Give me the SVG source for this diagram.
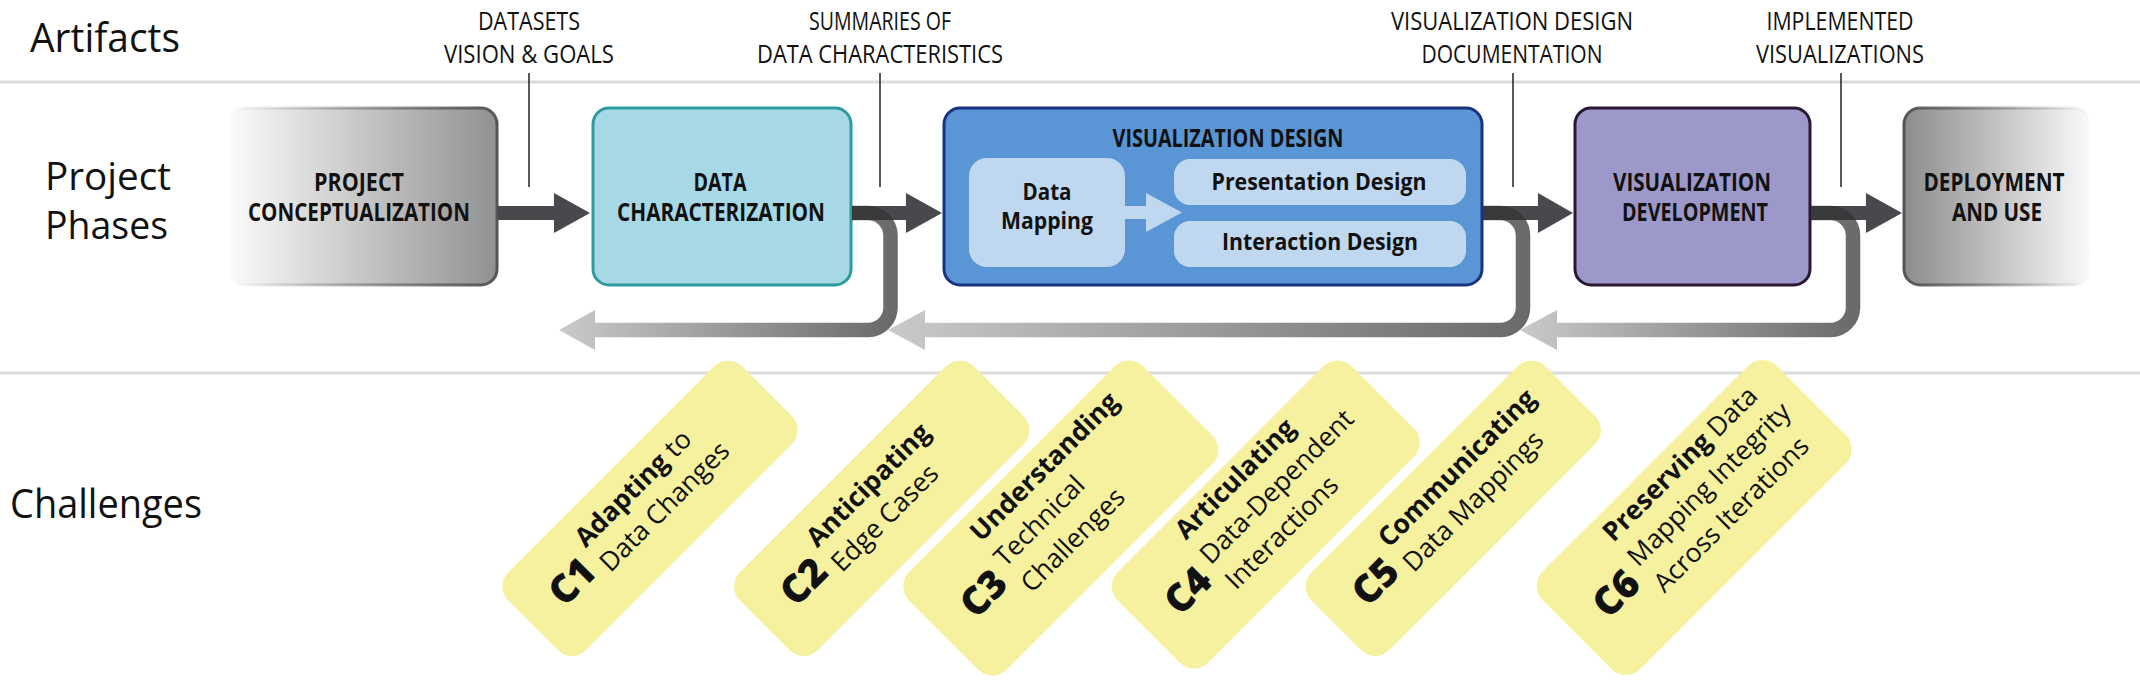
<svg xmlns="http://www.w3.org/2000/svg" width="2140" height="681" viewBox="0 0 2140 681">
<defs>
<style>
text{font-family:"Open Sans","Liberation Sans",sans-serif;fill:#111;}
.side{font-size:38px;}
.art{font-size:25px;text-anchor:middle;}
.phase{font-size:25px;font-weight:700;text-anchor:middle;}
.inner{font-size:24px;font-weight:700;text-anchor:middle;}
.sep{stroke:#dcdcdc;stroke-width:3;}
.ptr{stroke:#222;stroke-width:1.5;fill:none;}
.fwd{fill:#48494d;}
.card{fill:#f5f19e;}
.cnum{font-size:39px;font-weight:800;text-anchor:middle;}
.ctext{font-size:26.5px;font-weight:500;}
.b{font-weight:700;}
.innerbox{fill:#bfd7ef;}
</style>
<linearGradient id="gProjFill" x1="0" y1="0" x2="1" y2="0"><stop offset="0" stop-color="#fbfbfb"/><stop offset="1" stop-color="#919191"/></linearGradient>
<linearGradient id="gProjStroke" x1="0" y1="0" x2="1" y2="0"><stop offset="0" stop-color="#555" stop-opacity="0"/><stop offset="1" stop-color="#555"/></linearGradient>
<linearGradient id="gDepFill" x1="0" y1="0" x2="1" y2="0"><stop offset="0" stop-color="#8c8c8c"/><stop offset="1" stop-color="#fafafa"/></linearGradient>
<linearGradient id="gDepStroke" x1="0" y1="0" x2="1" y2="0"><stop offset="0" stop-color="#555"/><stop offset="1" stop-color="#555" stop-opacity="0"/></linearGradient>
<linearGradient id="gLoop1" gradientUnits="userSpaceOnUse" x1="559" y1="0" x2="891" y2="0"><stop offset="0" stop-color="#333" stop-opacity="0.26"/><stop offset="1" stop-color="#333" stop-opacity="0.73"/></linearGradient>
<linearGradient id="gLoop2" gradientUnits="userSpaceOnUse" x1="888" y1="0" x2="1523" y2="0"><stop offset="0" stop-color="#333" stop-opacity="0.26"/><stop offset="1" stop-color="#333" stop-opacity="0.73"/></linearGradient>
<linearGradient id="gLoop3" gradientUnits="userSpaceOnUse" x1="1520" y1="0" x2="1853" y2="0"><stop offset="0" stop-color="#333" stop-opacity="0.26"/><stop offset="1" stop-color="#333" stop-opacity="0.73"/></linearGradient>
</defs>

<rect x="0" y="0" width="2140" height="681" fill="#fff"/>

<g id="separators">
<line class="sep" x1="0" y1="82" x2="2140" y2="82"/>
<line class="sep" x1="0" y1="373" x2="2140" y2="373"/>
</g>

<g id="row-labels">
<text class="side" x="30" y="52" textLength="150" lengthAdjust="spacingAndGlyphs" style="font-size:40px">Artifacts</text>
<text class="side" x="45" y="190" textLength="126" lengthAdjust="spacingAndGlyphs">Project</text>
<text class="side" x="45" y="239" textLength="123" lengthAdjust="spacingAndGlyphs">Phases</text>
<text class="side" x="10" y="518" textLength="192" lengthAdjust="spacingAndGlyphs" style="font-size:40px">Challenges</text>
</g>

<g id="artifact-datasets">
<text class="art" x="529" y="30" textLength="102" lengthAdjust="spacingAndGlyphs">DATASETS</text>
<text class="art" x="529" y="63" textLength="170" lengthAdjust="spacingAndGlyphs">VISION &amp; GOALS</text>
</g>
<g id="artifact-summaries">
<text class="art" x="880" y="30" textLength="142" lengthAdjust="spacingAndGlyphs">SUMMARIES OF</text>
<text class="art" x="880" y="63" textLength="246" lengthAdjust="spacingAndGlyphs">DATA CHARACTERISTICS</text>
</g>
<g id="artifact-vizdoc">
<text class="art" x="1512" y="30" textLength="242" lengthAdjust="spacingAndGlyphs">VISUALIZATION DESIGN</text>
<text class="art" x="1512" y="63" textLength="181" lengthAdjust="spacingAndGlyphs">DOCUMENTATION</text>
</g>
<g id="artifact-implemented">
<text class="art" x="1840" y="30" textLength="147" lengthAdjust="spacingAndGlyphs">IMPLEMENTED</text>
<text class="art" x="1840" y="63" textLength="168" lengthAdjust="spacingAndGlyphs">VISUALIZATIONS</text>
</g>

<g id="phase-conceptualization">
<rect x="229" y="108" width="268" height="177" rx="16" fill="url(#gProjFill)" stroke="url(#gProjStroke)" stroke-width="3"/>
<text class="phase" x="359" y="190.5" textLength="90" lengthAdjust="spacingAndGlyphs">PROJECT</text>
<text class="phase" x="359" y="220.5" textLength="222" lengthAdjust="spacingAndGlyphs">CONCEPTUALIZATION</text>
</g>

<g id="phase-characterization">
<rect x="593" y="108" width="258" height="177" rx="16" fill="#a6d8e5" stroke="#2e9c9e" stroke-width="3"/>
<text class="phase" x="720" y="190.5" textLength="53" lengthAdjust="spacingAndGlyphs">DATA</text>
<text class="phase" x="721" y="220.5" textLength="208" lengthAdjust="spacingAndGlyphs">CHARACTERIZATION</text>
</g>

<g id="phase-design">
<rect x="944" y="108" width="538" height="177" rx="16" fill="#5a96d5" stroke="#1a337f" stroke-width="3"/>
<text class="phase" x="1228" y="146.5" textLength="231" lengthAdjust="spacingAndGlyphs">VISUALIZATION DESIGN</text>
<g id="data-mapping">
<rect class="innerbox" x="969" y="158" width="156" height="109" rx="18"/>
<text class="inner" x="1047" y="200" textLength="49" lengthAdjust="spacingAndGlyphs">Data</text>
<text class="inner" x="1047" y="229" textLength="92" lengthAdjust="spacingAndGlyphs">Mapping</text>
</g>
<path class="innerbox" d="M1124 206 H1146 V193 L1182 212.5 L1146 232 V219 H1124 Z"/>
<g id="presentation-design">
<rect class="innerbox" x="1174" y="159" width="292" height="46" rx="16"/>
<text class="inner" x="1319" y="190" textLength="215" lengthAdjust="spacingAndGlyphs">Presentation Design</text>
</g>
<g id="interaction-design">
<rect class="innerbox" x="1174" y="221" width="292" height="46" rx="16"/>
<text class="inner" x="1320" y="250" textLength="196" lengthAdjust="spacingAndGlyphs">Interaction Design</text>
</g>
</g>

<g id="phase-development">
<rect x="1575" y="108" width="235" height="177" rx="16" fill="#9c98ca" stroke="#2a1734" stroke-width="3"/>
<text class="phase" x="1692" y="190.5" textLength="158" lengthAdjust="spacingAndGlyphs">VISUALIZATION</text>
<text class="phase" x="1695" y="220.5" textLength="146" lengthAdjust="spacingAndGlyphs">DEVELOPMENT</text>
</g>

<g id="phase-deployment">
<rect x="1904" y="108" width="186" height="177" rx="16" fill="url(#gDepFill)" stroke="url(#gDepStroke)" stroke-width="3"/>
<text class="phase" x="1994" y="190.5" textLength="141" lengthAdjust="spacingAndGlyphs">DEPLOYMENT</text>
<text class="phase" x="1997" y="220.5" textLength="90" lengthAdjust="spacingAndGlyphs">AND USE</text>
</g>

<g id="connectors">
<line class="ptr" x1="529" y1="73" x2="529" y2="187"/>
<line class="ptr" x1="880" y1="73" x2="880" y2="187"/>
<line class="ptr" x1="1513" y1="73" x2="1513" y2="187"/>
<line class="ptr" x1="1841" y1="73" x2="1841" y2="187"/>
<path class="fwd" d="M498 206 H554 V193 L590 213 L554 233 V220 H498 Z"/>
<path class="fwd" d="M852 206 H906 V193 L942 213 L906 233 V220 H852 Z"/>
<path class="fwd" d="M1483 206 H1538 V193 L1573 213 L1538 233 V220 H1483 Z"/>
<path class="fwd" d="M1811 206 H1866 V193 L1902 213 L1866 233 V220 H1811 Z"/>
<path d="M852 213 H868 A22.5 22.5 0 0 1 890.5 235.5 V307.5 A22.5 22.5 0 0 1 868 330 H595" fill="none" stroke="url(#gLoop1)" stroke-width="14.5"/>
<polygon points="595,310 559,330 595,350" fill="url(#gLoop1)"/>
<path d="M1483 213 H1500.5 A22.5 22.5 0 0 1 1523 235.5 V307.5 A22.5 22.5 0 0 1 1500.5 330 H925" fill="none" stroke="url(#gLoop2)" stroke-width="14.5"/>
<polygon points="925,310 888,330 925,350" fill="url(#gLoop2)"/>
<path d="M1811 213 H1830.5 A22.5 22.5 0 0 1 1853 235.5 V307.5 A22.5 22.5 0 0 1 1830.5 330 H1557" fill="none" stroke="url(#gLoop3)" stroke-width="14.5"/>
<polygon points="1557,310 1520,330 1557,350" fill="url(#gLoop3)"/>
</g>

<g id="challenge-c1" transform="translate(650 508.3) rotate(-45)">
<rect class="card" x="-165.5" y="-55" width="331" height="110" rx="20"/>
<text class="cnum" x="-107" y="10">C1</text>
<text class="ctext" x="-74" y="-17"><tspan class="b">Adapting</tspan> to</text>
<text class="ctext" x="-74" y="18">Data Changes</text>
</g>
<g id="challenge-c2" transform="translate(881.7 508.3) rotate(-45)">
<rect class="card" x="-165.5" y="-55" width="331" height="110" rx="20"/>
<text class="cnum" x="-107" y="10">C2</text>
<text class="ctext b" x="-74" y="-17">Anticipating</text>
<text class="ctext" x="-74" y="18">Edge Cases</text>
</g>
<g id="challenge-c3" transform="translate(1060.8 518) rotate(-45)">
<rect class="card" x="-165.5" y="-69" width="331" height="138" rx="20"/>
<text class="cnum" x="-108" y="12">C3</text>
<text class="ctext b" x="-74" y="-39">Understanding</text>
<text class="ctext" x="-75" y="-4">Technical</text>
<text class="ctext" x="-74" y="33">Challenges</text>
</g>
<g id="challenge-c4" transform="translate(1265.8 514.5) rotate(-45)">
<rect class="card" x="-165.5" y="-64" width="331" height="128" rx="20"/>
<text class="cnum" x="-109" y="12">C4</text>
<text class="ctext b" x="-75" y="-38">Articulating</text>
<text class="ctext" x="-75" y="-3">Data-Dependent</text>
<text class="ctext" x="-75" y="33">Interactions</text>
</g>
<g id="challenge-c5" transform="translate(1453.3 508.3) rotate(-45)">
<rect class="card" x="-165.5" y="-55" width="331" height="110" rx="20"/>
<text class="cnum" x="-107" y="10">C5</text>
<text class="ctext b" x="-74" y="-17">Communicating</text>
<text class="ctext" x="-74" y="18">Data Mappings</text>
</g>
<g id="challenge-c6" transform="translate(1694.2 517.5) rotate(-45)">
<rect class="card" x="-165.5" y="-69" width="331" height="138" rx="20"/>
<text class="cnum" x="-109" y="12">C6</text>
<text class="ctext" x="-75" y="-39"><tspan class="b">Preserving</tspan> Data</text>
<text class="ctext" x="-75" y="-4">Mapping Integrity</text>
<text class="ctext" x="-75" y="33">Across Iterations</text>
</g>
</svg>
